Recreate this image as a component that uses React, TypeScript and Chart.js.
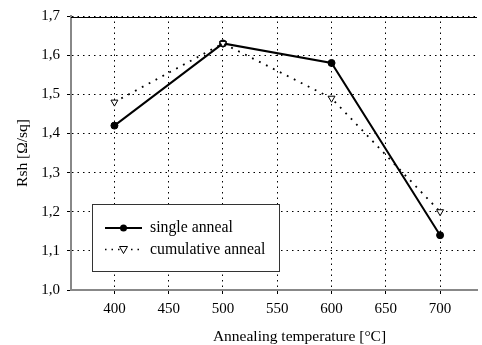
import React, { useEffect, useRef } from "react";
import { Chart, registerables } from "chart.js";

Chart.register(...registerables);

const temperatures = [400, 500, 600, 700];
const singleAnneal = [1.42, 1.63, 1.58, 1.14];
const cumulativeAnneal = [1.48, 1.63, 1.49, 1.2];
const seriesLabels = ["single anneal", "cumulative anneal"];
const xTicks = [400, 450, 500, 550, 600, 650, 700];
const yTicks = [1.0, 1.1, 1.2, 1.3, 1.4, 1.5, 1.6, 1.7];
const xTitle = "Annealing temperature [°C]";
const yTitle = "Rsh [Ω/sq]";

const FONT = "'Liberation Serif', 'Times New Roman', serif";

const legendPlugin = {
  id: "boxLegend",
  afterDraw(chart: any) {
    const ctx = chart.ctx;
    const area = chart.chartArea;
    ctx.save();
    // top solid border line
    ctx.strokeStyle = "#000";
    ctx.lineWidth = 1;
    ctx.beginPath();
    ctx.moveTo(area.left, area.top + 1.5);
    ctx.lineTo(area.right, area.top + 1.5);
    ctx.stroke();

    // x axis title (centred on the full, uncropped plot)
    ctx.fillStyle = "#000";
    ctx.font = `15.5px ${FONT}`;
    ctx.textAlign = "center";
    ctx.textBaseline = "middle";
    ctx.fillText(xTitle, 299.5, 336.5);

    const bx = 92, by = 204, bw = 187, bh = 67;
    ctx.fillStyle = "#fff";
    ctx.fillRect(bx, by, bw, bh);
    ctx.strokeStyle = "#333";
    ctx.lineWidth = 1;
    ctx.strokeRect(bx + 0.5, by + 0.5, bw, bh);

    const rows = [228, 249.5];
    // row 1: solid line w/ filled circle
    ctx.strokeStyle = "#000";
    ctx.lineWidth = 2;
    ctx.setLineDash([]);
    ctx.beginPath();
    ctx.moveTo(105, rows[0]);
    ctx.lineTo(142, rows[0]);
    ctx.stroke();
    ctx.fillStyle = "#000";
    ctx.beginPath();
    ctx.arc(123.5, rows[0], 3.5, 0, Math.PI * 2);
    ctx.fill();
    // row 2: dotted line with triangle
    ctx.lineWidth = 1.5;
    ctx.setLineDash([1.5, 5]);
    ctx.beginPath();
    ctx.moveTo(105, rows[1]);
    ctx.lineTo(142, rows[1]);
    ctx.stroke();
    ctx.setLineDash([]);
    ctx.fillStyle = "#fff";
    ctx.lineWidth = 1;
    ctx.beginPath();
    ctx.moveTo(119.5, rows[1] - 3);
    ctx.lineTo(127.5, rows[1] - 3);
    ctx.lineTo(123.5, rows[1] + 4);
    ctx.closePath();
    ctx.fill();
    ctx.stroke();

    ctx.fillStyle = "#000";
    ctx.font = `15.8px ${FONT}`;
    ctx.textBaseline = "middle";
    ctx.textAlign = "left";
    ctx.fillText(seriesLabels[0], 150, rows[0]);
    ctx.fillText(seriesLabels[1], 150, rows[1]);
    ctx.restore();
  },
};

export default function App() {
  const ref = useRef<HTMLCanvasElement>(null);
  useEffect(() => {
    if (!ref.current) return;
    const chart = new Chart(ref.current, {
      type: "line",
      data: {
        datasets: [
          {
            label: seriesLabels[0],
            data: temperatures.map((t, i) => ({ x: t, y: singleAnneal[i] })),
            borderColor: "#000",
            backgroundColor: "#000",
            borderWidth: 2,
            pointRadius: 3.5,
            pointStyle: "circle",
            pointBackgroundColor: "#000",
            pointBorderColor: "#000",
            pointBorderWidth: 1,
            order: 1,
          },
          {
            label: seriesLabels[1],
            data: temperatures.map((t, i) => ({ x: t, y: cumulativeAnneal[i] })),
            borderColor: "#000",
            backgroundColor: "#fff",
            borderWidth: 1.8,
            borderDash: [1.8, 6],
            pointRadius: 4,
            pointStyle: "triangle",
            pointRotation: 180,
            pointBackgroundColor: "#fff",
            pointBorderColor: "#000",
            pointBorderWidth: 1,
            order: 0,
          },
        ],
      },
      options: {
        animation: false,
        responsive: false,
        layout: { padding: { left: 0, top: 14, right: 0, bottom: 0 } },
        plugins: { legend: { display: false }, tooltip: { enabled: false } },
        scales: {
          x: {
            type: "linear",
            min: 360,
            max: 734,
            afterBuildTicks: (s: any) => {
              s.ticks = xTicks.map((v) => ({ value: v }));
            },
            afterFit: (s: any) => {
              s.height = 55;
            },
            grid: {
              color: "#000",
              lineWidth: 1,
              tickLength: 4,
              tickColor: "#000",
              tickBorderDash: [],
            },
            border: { color: "#888", width: 2, dash: [1.5, 4] },
            ticks: {
              color: "#000",
              font: { family: FONT, size: 15 },
              padding: 6,
              maxRotation: 0,
            },
            title: { display: false },
          },
          y: {
            type: "linear",
            min: 1.0,
            max: 1.7,
            afterBuildTicks: (s: any) => {
              s.ticks = yTicks.map((v) => ({ value: v }));
            },
            afterFit: (s: any) => {
              s.width = 71;
            },
            grid: {
              color: "#000",
              lineWidth: 1,
              tickLength: 4,
              tickColor: "#000",
              tickBorderDash: [],
            },
            border: { color: "#888", width: 2, dash: [1.5, 4] },
            ticks: {
              color: "#000",
              font: { family: FONT, size: 15 },
              padding: 7,
              callback: (v: any) => Number(v).toFixed(1).replace(".", ","),
            },
            title: {
              display: true,
              text: yTitle,
              color: "#000",
              font: { family: FONT, size: 15.5 },
              padding: { top: 14, bottom: 0 },
            },
          },
        },
      },
      plugins: [legendPlugin],
    } as any);
    return () => chart.destroy();
  }, []);
  return (
    <div style={{ position: "fixed", left: 0, top: 0, width: 482, height: 345, background: "#fff" }}>
      <canvas ref={ref} width={482} height={345} />
    </div>
  );
}
